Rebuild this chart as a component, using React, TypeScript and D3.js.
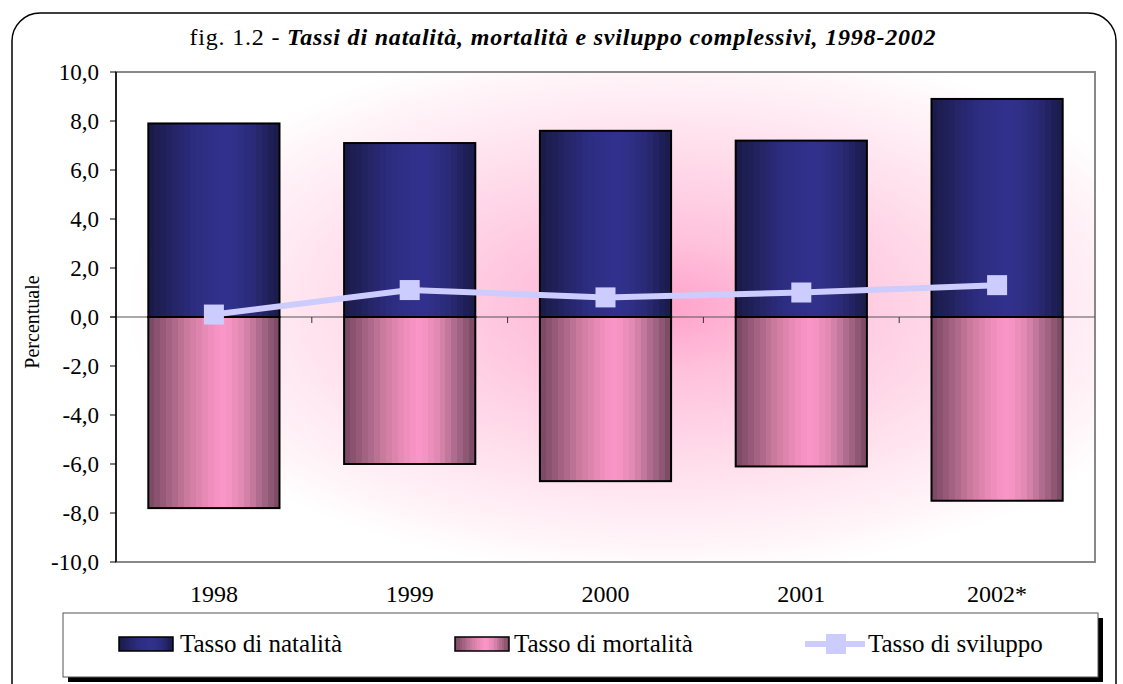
import React from "react";
import * as d3 from "d3";

const years = ["1998", "1999", "2000", "2001", "2002*"];
const natalita = [7.9, 7.1, 7.6, 7.2, 8.9];
const mortalita = [-7.8, -6.0, -6.7, -6.1, -7.5];
const sviluppo = [0.1, 1.1, 0.8, 1.0, 1.3];
const yTicks = [-10, -8, -6, -4, -2, 0, 2, 4, 6, 8, 10];

const W = 1123, H = 684;
const plot = { left: 116, right: 1095, top: 72, bottom: 562 };
const font = "'Liberation Serif', serif";

// cylinder-like shading, [offset, colour]
const blueStops: [number, string][] = [[0, "#1a1a48"], [0.15, "#22225e"], [0.35, "#2c2c80"], [0.6, "#32328f"], [0.8, "#2a2a78"], [1, "#1a1a48"]];
const pinkStops: [number, string][] = [[0, "#784660"], [0.15, "#a06080"], [0.32, "#d07ea2"], [0.5, "#f592c2"], [0.58, "#fb96c8"], [0.72, "#e088b2"], [0.86, "#a86888"], [1, "#764660"]];

const Grad = ({ id, stops, bands }: { id: string; stops: [number, string][]; bands: number }) => {
  // sample the ramp into narrow flat bands, like the old office fill
  const interp = d3.scaleLinear<string>().domain(stops.map(s => s[0])).range(stops.map(s => s[1]));
  const out: JSX.Element[] = [];
  for (let i = 0; i < bands; i++) {
    const c = interp((i + 0.5) / bands);
    out.push(<stop key={i + "a"} offset={i / bands} stopColor={c} />);
    out.push(<stop key={i + "b"} offset={(i + 1) / bands} stopColor={c} />);
  }
  return <linearGradient id={id} x1="0" x2="1" y1="0" y2="0">{out}</linearGradient>;
};

const App = () => {
  const x = d3.scaleBand<string>().domain(years).range([plot.left, plot.right]).paddingInner(0.33).paddingOuter(0.165);
  const y = d3.scaleLinear().domain([-10, 10]).range([plot.bottom, plot.top]);
  const cx = (d: string) => (x(d) as number) + x.bandwidth() / 2;
  const gap = x.step() - x.bandwidth();
  const line = d3.line<number>().x((_, i) => cx(years[i])).y(v => y(v));

  const legY = 613, legX = 63, legW = 1035, legH = 64;

  return (
    <svg width={W} height={H} style={{ position: "absolute", left: 0, top: 0 }}>
      <defs>
        <Grad id="blue" stops={blueStops} bands={22} />
        <Grad id="pink" stops={pinkStops} bands={22} />
        <radialGradient id="bg" cx="0.56" cy="0.48" r="0.55">
          <stop offset="0" stopColor="#ffa2cb" />
          <stop offset="0.25" stopColor="#ffc2dc" />
          <stop offset="0.55" stopColor="#ffdbea" />
          <stop offset="0.82" stopColor="#fff0f6" />
          <stop offset="1" stopColor="#ffffff" />
        </radialGradient>
      </defs>
      <rect width={W} height={H} fill="#fff" />
      <rect x={12} y={13} width={1104} height={700} rx={28} fill="#fff" stroke="#000" strokeWidth={1.5} />

      <text x={563} y={45} textAnchor="middle" fontFamily={font} fontSize={24} letterSpacing={0.8}>
        fig. 1.2 - <tspan fontStyle="italic" fontWeight="bold">Tassi di natalità, mortalità e sviluppo complessivi, 1998-2002</tspan>
      </text>

      {/* plot area */}
      <rect x={plot.left} y={plot.top} width={plot.right - plot.left} height={plot.bottom - plot.top}
        fill="url(#bg)" stroke="#888" strokeWidth={2} />

      {/* zero axis with category ticks */}
      <line x1={plot.left - 6} x2={plot.right} y1={y(0)} y2={y(0)} stroke="#555" strokeWidth={1} />
      {years.slice(1).map(d => (
        <line key={d} x1={(x(d) as number) - gap / 2} x2={(x(d) as number) - gap / 2}
          y1={y(0)} y2={y(0) + 6} stroke="#333" strokeWidth={1} />
      ))}

      {/* bars */}
      {years.map((d, i) => (
        <g key={d}>
          <rect x={x(d)} y={y(natalita[i])} width={x.bandwidth()} height={y(0) - y(natalita[i])}
            fill="url(#blue)" stroke="#000" strokeWidth={2} />
          <rect x={x(d)} y={y(0)} width={x.bandwidth()} height={y(mortalita[i]) - y(0)}
            fill="url(#pink)" stroke="#000" strokeWidth={2} />
        </g>
      ))}

      {/* sviluppo line */}
      <path d={line(sviluppo) as string} fill="none" stroke="#ccccff" strokeWidth={6} />
      {sviluppo.map((v, i) => (
        <rect key={i} x={cx(years[i]) - 10} y={y(v) - 10} width={20} height={20} fill="#ccccff" />
      ))}

      {/* y axis */}
      <line x1={plot.left} x2={plot.left} y1={plot.top} y2={plot.bottom} stroke="#000" strokeWidth={1.5} />
      {yTicks.map(t => (
        <g key={t}>
          <line x1={plot.left - 6} x2={plot.left} y1={y(t)} y2={y(t)} stroke="#000" strokeWidth={1} />
          <text x={99} y={y(t)} dy="0.34em" textAnchor="end" fontFamily={font} fontSize={23}>
            {d3.format(".1f")(t).replace(".", ",").replace("−", "-")}
          </text>
        </g>
      ))}
      <text transform={`translate(39,322) rotate(-90)`} textAnchor="middle" fontFamily={font} fontSize={20}>
        Percentuale
      </text>

      {/* x labels */}
      {years.map(d => (
        <text key={d} x={cx(d)} y={602} textAnchor="middle" fontFamily={font} fontSize={24}>{d}</text>
      ))}

      {/* legend */}
      <rect x={legX + 5} y={legY + 5} width={legW} height={legH} fill="#000" />
      <rect x={legX} y={legY} width={legW} height={legH} fill="#fff" stroke="#555" strokeWidth={1} />
      <rect x={119} y={637} width={54} height={14} fill="url(#blue)" stroke="#000" strokeWidth={1.5} />
      <text x={180} y={652} fontFamily={font} fontSize={25}>Tasso di natalità</text>
      <rect x={455} y={637} width={54} height={14} fill="url(#pink)" stroke="#000" strokeWidth={1.5} />
      <text x={514} y={652} fontFamily={font} fontSize={25}>Tasso di mortalità</text>
      <line x1={805} x2={865} y1={644} y2={644} stroke="#ccccff" strokeWidth={6} />
      <rect x={826} y={634} width={20} height={20} fill="#ccccff" />
      <text x={868} y={652} fontFamily={font} fontSize={25}>Tasso di sviluppo</text>
    </svg>
  );
};

export default App;
